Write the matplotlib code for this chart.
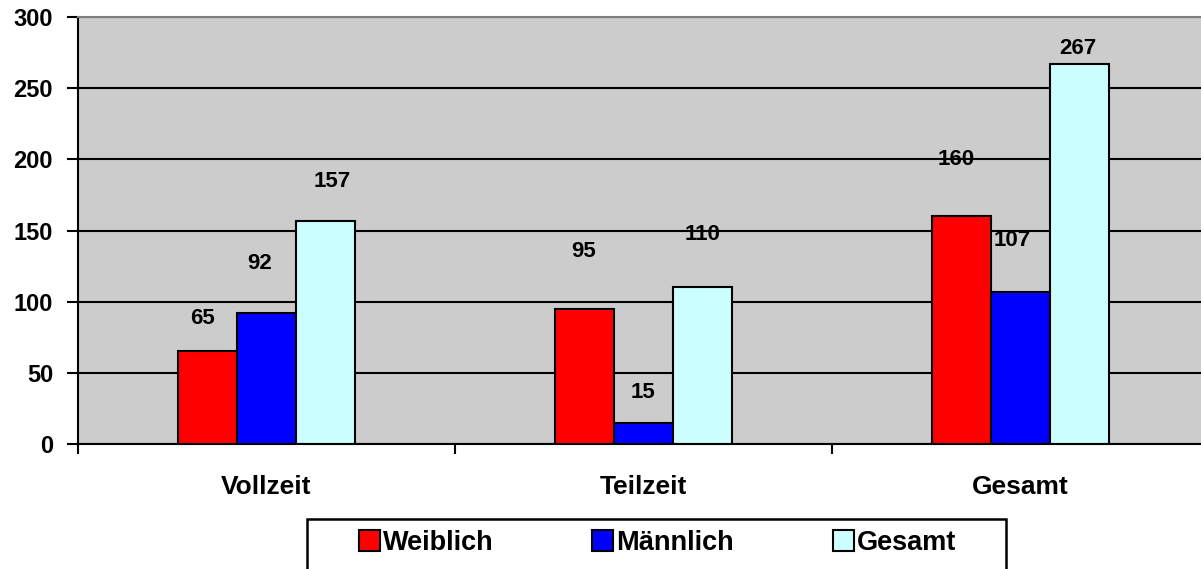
"""
Vollzeit / Teilzeit / Gesamt by gender - grouped bar chart.
"""

import matplotlib.pyplot as plt
import numpy as np
from matplotlib.patches import Rectangle

CATEGORIES = ["Vollzeit", "Teilzeit", "Gesamt"]
SERIES = ["Weiblich", "Männlich", "Gesamt"]
WEIBLICH = [65, 95, 160]
MAENNLICH = [92, 15, 107]
GESAMT = [157, 110, 267]
Y_TICKS = [0, 50, 100, 150, 200, 250, 300]

COLORS = ["#FF0000", "#0000FF", "#CCFFFF"]

# label offsets (points) relative to bar top center, as placed in the original
LABEL_DX = [[-4, -5, 5], [-1, 0, 0], [-4, -6, -1]]
LABEL_DY = [[24, 36, 28], [41, 22, 38], [41, 37, 11]]

plt.rcParams["font.family"] = ["Liberation Sans", "DejaVu Sans"]
plt.rcParams["font.weight"] = "bold"

fig = plt.figure(figsize=(12.01, 5.69), dpi=100)
W, H = 1201, 569
ax = fig.add_axes([78 / W, 1 - 444 / H, (1209 - 78) / W, (444 - 17) / H])
ax.set_facecolor("#CCCCCC")

x = np.arange(len(CATEGORIES))
bw = 0.156
series_vals = [WEIBLICH, MAENNLICH, GESAMT]
for j, vals in enumerate(series_vals):
    xs = x + (j - 1) * bw
    ax.bar(xs, vals, width=bw, color=COLORS[j], edgecolor="black",
           linewidth=1.5, zorder=3, label=SERIES[j])
    for i, v in enumerate(vals):
        ax.annotate(str(v), (xs[i], v), xytext=(LABEL_DX[i][j], LABEL_DY[i][j]),
                    textcoords="offset points", ha="center", va="center",
                    fontsize=16, fontweight="bold", zorder=5)

ax.set_xlim(-0.5, 2.5)
ax.set_ylim(0, 300)
ax.set_yticks(Y_TICKS)
ax.set_yticklabels([str(t) for t in Y_TICKS], fontsize=17, fontweight="bold")
ax.yaxis.grid(True, color="black", linewidth=1.5, zorder=1)
ax.set_axisbelow(True)

ax.set_xticks(x)
ax.set_xticklabels(CATEGORIES, fontsize=19, fontweight="bold")
ax.set_xticks([-0.5, 0.5, 1.5, 2.5], minor=True)
ax.tick_params(axis="x", which="major", length=0, pad=22)
ax.tick_params(axis="x", which="minor", length=7, width=1.5, direction="out")
ax.tick_params(axis="y", length=8, width=1.5, direction="out", pad=10)

ax.spines["left"].set_linewidth(1.5)
ax.spines["bottom"].set_linewidth(1.5)
ax.spines["bottom"].set_zorder(4)
ax.spines["top"].set_color("#808080")
ax.spines["top"].set_linewidth(1.5)
ax.spines["right"].set_visible(False)

# legend frame drawn separately so the box matches the original
fig.patches.append(Rectangle((307 / W, -0.02), (1006 - 307) / W, (1 - 519 / H) + 0.02,
                             transform=fig.transFigure, facecolor="white",
                             edgecolor="black", linewidth=1.8))
fig.legend(loc="center left", bbox_to_anchor=(359 / W, 1 - 543 / H), ncol=3,
           frameon=False, handlelength=0.78, handleheight=0.78,
           handletextpad=0.1, columnspacing=3.65, borderpad=0, borderaxespad=0,
           prop={"weight": "bold", "size": 19.5})

fig.savefig("out.png", dpi=100)
